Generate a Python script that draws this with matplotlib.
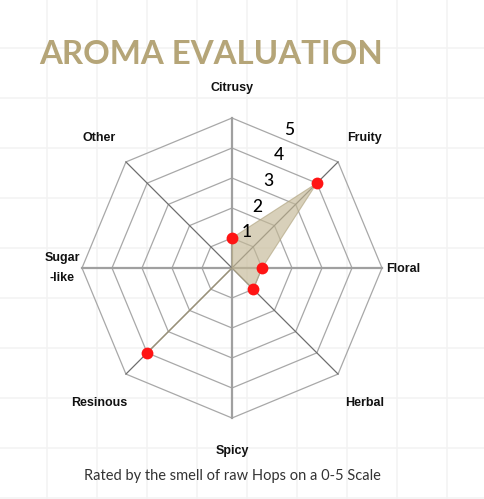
import numpy as np
import matplotlib.pyplot as plt

# Data
categories = ['Citrusy', 'Fruity', 'Floral', 'Herbal', 'Spicy', 'Resinous', 'Sugar\n-like', 'Other']
scores = [1, 4, 1, 1, 0, 4, 0, 0]
rings = [1, 2, 3, 4, 5]

title = 'AROMA EVALUATION'
subtitle = 'Rated by the smell of raw Hops on a 0-5 Scale'

W, H = 484, 499
cx, cy = 232, 268   # centre in pixels
unit = 30.0         # pixels per score point

fig = plt.figure(figsize=(W / 100, H / 100), dpi=100)
fig.patch.set_facecolor('white')

# light background grid
bg = fig.add_axes([0, 0, 1, 1])
bg.set_xlim(0, W)
bg.set_ylim(H, 0)
bg.axis('off')
for gx in np.arange(46.7, W, 50):
    bg.axvline(gx, color='#f3f3f3', lw=1.2, zorder=0)
for gy in np.arange(48.3, H, 50):
    bg.axhline(gy, color='#f3f3f3', lw=1.2, zorder=0)

ax = fig.add_axes([0, 0, 1, 1])
ax.set_xlim(-cx / unit, (W - cx) / unit)
ax.set_ylim(-(H - cy) / unit, cy / unit)
ax.set_aspect('equal')
ax.axis('off')
ax.patch.set_alpha(0)

n = len(categories)
angles = np.arange(n) * 2 * np.pi / n  # clockwise from top
sx = np.sin(angles)
sy = np.cos(angles)

# rings
for r in rings:
    ax.plot(np.append(sx, sx[0]) * r, np.append(sy, sy[0]) * r,
            color='#a8a8a8', lw=0.9, zorder=1)

# spokes
for i in range(n):
    if i % 2 == 0:
        ax.plot([0, sx[i] * 5], [0, sy[i] * 5], color='#a0a0a0', lw=1.6, zorder=1)
    else:
        ax.plot([0, sx[i] * 5], [0, sy[i] * 5], color='#6e6e6e', lw=0.9, zorder=1)

# data polygon
vals = np.array(scores, dtype=float)
px = sx * vals
py = sy * vals
ax.fill(np.append(px, px[0]), np.append(py, py[0]), color='#c4b895', alpha=0.65,
        lw=0.8, ec='#b0a480', zorder=2)
nz = vals > 0
ax.plot(px[nz], py[nz], 'o', color='#ff1414', ms=8.5, mec='none', zorder=3)

# ring value labels
mid = np.pi / n
for r in rings:
    rr = r * np.cos(mid) + 0.37
    ax.text(np.sin(mid) * rr, np.cos(mid) * rr, str(r), fontsize=12.5,
            family='Lato', fontweight='medium', ha='center', va='center',
            color='#000000', zorder=4)

# category labels (pixel offsets from centre)
label_pos = [(0, -180), (133, -130), (171, 1), (133, 135), (0, 183),
             (-133, 135), (-170, 0), (-133, -130)]
for lab, (dx, dy) in zip(categories, label_pos):
    ax.text(dx / unit, -dy / unit, lab, fontsize=9, family='Liberation Sans',
            fontweight='bold', ha='center', va='center', color='#111111',
            linespacing=1.9)

fig.text(39 / W, 1 - 55 / H, title, fontsize=23.8, family='Lato', fontweight='bold',
         color='#b5a578', ha='left', va='center')
fig.text(232 / W, 1 - 476 / H, subtitle, fontsize=10.5, family='Lato',
         color='#333333', ha='center', va='center')

fig.savefig('out.png', dpi=100, facecolor='white')
